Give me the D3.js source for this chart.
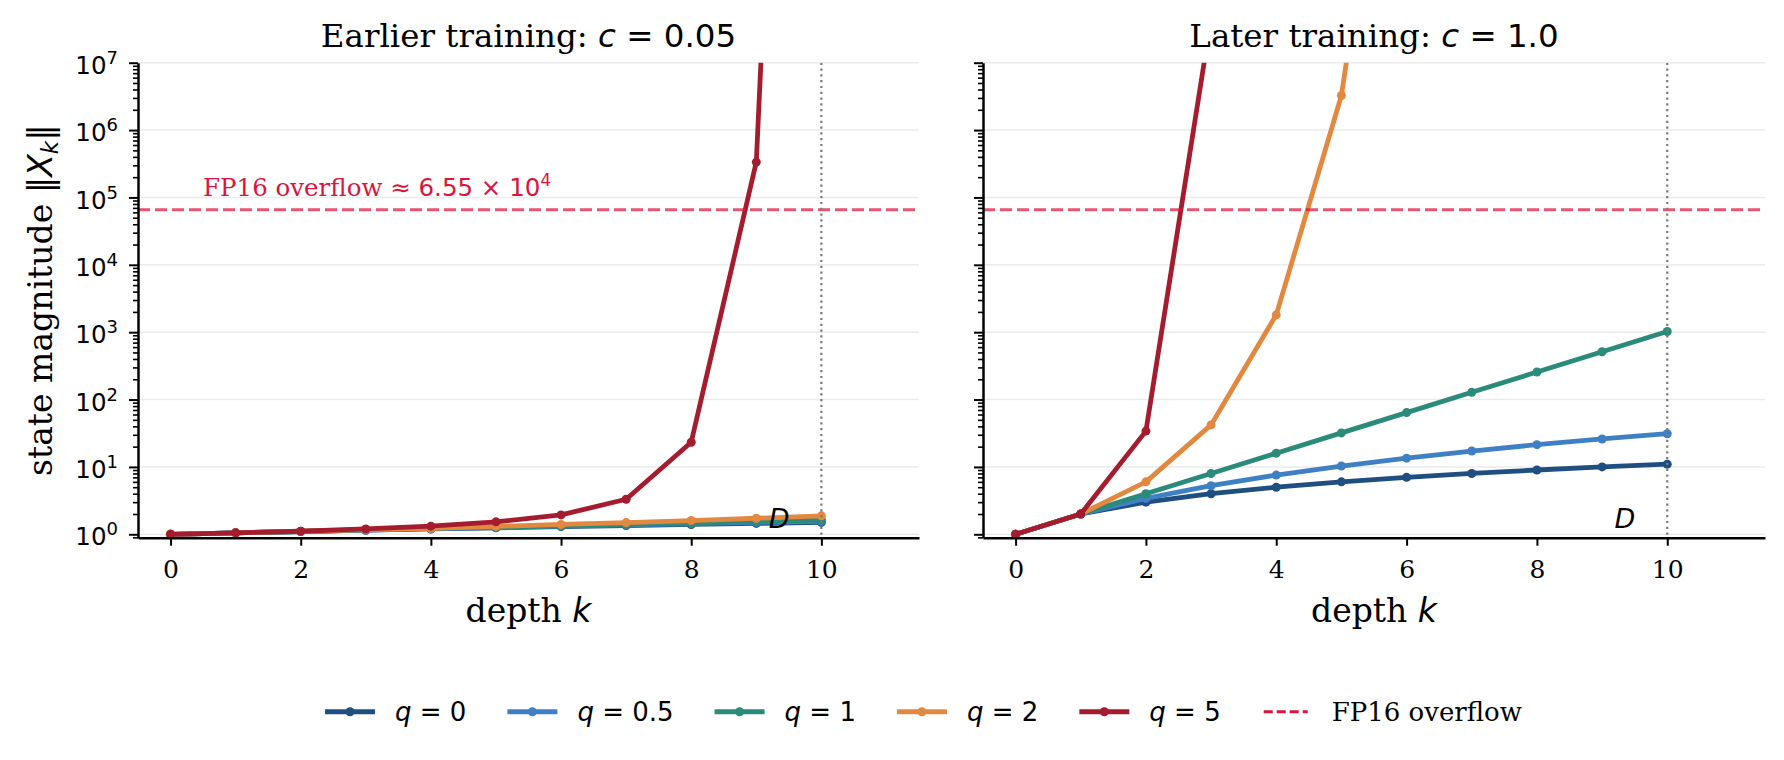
<!DOCTYPE html>
<html>
<head>
<meta charset="utf-8">
<script src="https://cdn.jsdelivr.net/npm/d3@7"></script>
<style>
  body { margin: 0; background: #fff; }
  svg text { font-family: "DejaVu Serif", serif; fill: #000; }
  .m { font-family: "DejaVu Sans", sans-serif; }
</style>
</head>
<body>
<div id="chart"></div>
<script>
// ---- data ----
var depth = [0, 1, 2, 3, 4, 5, 6, 7, 8, 9, 10];
var qLabels = ["0", "0.5", "1", "2", "5"];
var qColors = ["#1f4e80", "#3f80c4", "#2a8b7a", "#e3883f", "#a51c2e"];

// earlier training, c = 0.05
var early_q0   = [1, 1.05, 1.10, 1.15, 1.20, 1.25, 1.30, 1.35, 1.40, 1.45, 1.50];
var early_q05  = [1, 1.05, 1.10, 1.15, 1.21, 1.26, 1.32, 1.38, 1.44, 1.50, 1.56];
var early_q1   = [1, 1.05, 1.10, 1.16, 1.22, 1.28, 1.34, 1.41, 1.48, 1.55, 1.63];
var early_q2   = [1, 1.05, 1.11, 1.17, 1.23, 1.31, 1.40, 1.49, 1.60, 1.73, 1.88];
var early_q5   = [1, 1.05, 1.11, 1.20, 1.32, 1.53, 1.94, 3.31, 23.2, 3.35e5, 2.1e26];

// later training, c = 1.0
var late_q0  = [1, 2, 3, 4, 5, 6, 7, 8, 9, 10, 11];
var late_q05 = [1, 2, 3.41, 5.26, 7.56, 10.3, 13.5, 17.2, 21.4, 26.0, 31.1];
var late_q1  = [1, 2, 4, 8, 16, 32, 64, 128, 256, 512, 1024];
var late_q2  = [1, 2, 6, 42, 1806, 3.26e6, 1.06e13];
var late_q5  = [1, 2, 34, 4.5e7];

var early = [early_q0, early_q05, early_q1, early_q2, early_q5];
var late  = [late_q0, late_q05, late_q1, late_q2, late_q5];

var fp16Max = 65504;
var depthD = 10;
var xTicks = [0, 2, 4, 6, 8, 10];
var yDecades = [0, 1, 2, 3, 4, 5, 6, 7];

// ---- layout ----
var W = 1784, H = 760;
var plotTop = 62.7, plotBottom = 537.7;

var svg = d3.select("#chart")
  .append("svg")
    .attr("width", W)
    .attr("height", H);

var panels = [
  {x0: 138, x1: 919, title: "Earlier training: ", c: "0.05", series: early, yLabels: true},
  {x0: 983, x1: 1765, title: "Later training: ", c: "1.0", series: late, yLabels: false}
];

var majors = yDecades.map(function(e) { return Math.pow(10, e); });
var minors = [];
for (var e = -1; e < 7; e++) {
  for (var m = 2; m <= 9; m++) {
    var v = m * Math.pow(10, e);
    if (v >= 0.89 && v <= 1e7) minors.push(v);
  }
}

panels.forEach(function(p, i) {
  var x = d3.scaleLinear().domain([-0.5, 11.5]).range([p.x0, p.x1]);
  var y = d3.scaleLog().domain([0.89, 1e7]).range([plotBottom, plotTop]);

  var g = svg.append("g");

  svg.append("clipPath").attr("id", "clip" + i)
    .append("rect")
      .attr("x", p.x0).attr("y", plotTop)
      .attr("width", p.x1 - p.x0).attr("height", plotBottom - plotTop);

  // grid
  g.append("g").selectAll("line")
    .data(majors)
    .enter().append("line")
      .attr("x1", p.x0).attr("x2", p.x1)
      .attr("y1", function(d) { return y(d); })
      .attr("y2", function(d) { return y(d); })
      .attr("stroke", "#ebebeb")
      .attr("stroke-width", 1.5);

  var plot = g.append("g").attr("clip-path", "url(#clip" + i + ")");

  // series
  p.series.forEach(function(vals, s) {
    var pts = vals.map(function(v, k) { return {k: depth[k], v: v}; });
    plot.append("path")
      .datum(pts)
      .attr("fill", "none")
      .attr("stroke", qColors[s])
      .attr("stroke-width", 4.8)
      .attr("stroke-linejoin", "round")
      .attr("d", d3.line()
        .x(function(d) { return x(d.k); })
        .y(function(d) { return y(d.v); }));
    plot.append("g").selectAll("circle")
      .data(pts)
      .enter().append("circle")
        .attr("cx", function(d) { return x(d.k); })
        .attr("cy", function(d) { return y(d.v); })
        .attr("r", 4.5)
        .attr("fill", qColors[s]);
  });

  // FP16 overflow line
  plot.append("line")
    .attr("x1", p.x0).attr("x2", p.x1)
    .attr("y1", y(fp16Max)).attr("y2", y(fp16Max))
    .attr("stroke", "#dc143c")
    .attr("stroke-opacity", 0.72)
    .attr("stroke-width", 3)
    .attr("stroke-dasharray", "12,5");

  // depth D marker
  plot.append("line")
    .attr("x1", x(depthD)).attr("x2", x(depthD))
    .attr("y1", plotTop).attr("y2", plotBottom)
    .attr("stroke", "#7a7a7a")
    .attr("stroke-width", 2.2)
    .attr("stroke-dasharray", "2.2,3.6");

  g.append("text")
    .attr("class", "m")
    .attr("x", x(9.35))
    .attr("y", y(1.25))
    .attr("text-anchor", "middle")
    .style("font-size", "27px")
    .style("font-style", "italic")
    .text("D");

  if (i === 0) {
    var ann = g.append("text")
      .attr("x", x(0.5))
      .attr("y", y(1e5) - 1)
      .style("font-size", "24.5px")
      .style("fill", "#dc143c");
    ann.append("tspan").text("FP16 overflow ");
    ann.append("tspan").attr("class", "m").style("fill", "#dc143c").text("\u2248 6.55 \u00d7 10");
    ann.append("tspan").attr("class", "m").style("fill", "#dc143c")
      .attr("dy", -10).style("font-size", "17px").text("4");
  }

  // x axis
  var gx = g.append("g")
    .attr("transform", "translate(0," + plotBottom + ")")
    .call(d3.axisBottom(x).tickValues(xTicks).tickSize(8).tickSizeOuter(0));
  gx.attr("font-size", null).attr("font-family", null);
  gx.select(".domain").attr("stroke", "#000").attr("stroke-width", 2.5);
  gx.selectAll(".tick line").attr("stroke", "#000").attr("stroke-width", 2);
  gx.selectAll(".tick text")
    .attr("y", 40.3).attr("dy", null)
    .style("font-size", "25px");

  // y axis: minors then majors
  var gym = g.append("g")
    .attr("transform", "translate(" + p.x0 + ",0)")
    .call(d3.axisLeft(y).tickValues(minors).tickSize(5).tickSizeOuter(0).tickFormat(""));
  gym.select(".domain").remove();
  gym.selectAll(".tick line").attr("stroke", "#000").attr("stroke-width", 1.6);

  var gy = g.append("g")
    .attr("transform", "translate(" + p.x0 + ",0)")
    .call(d3.axisLeft(y).tickValues(majors).tickSize(9).tickSizeOuter(0).tickFormat(""));
  gy.attr("font-size", null).attr("font-family", null);
  gy.select(".domain").attr("stroke", "#000").attr("stroke-width", 2.5);
  gy.selectAll(".tick line").attr("stroke", "#000").attr("stroke-width", 2);

  if (p.yLabels) {
    gy.selectAll(".tick text").each(function(d) {
      var t = d3.select(this)
        .attr("class", "m")
        .attr("x", -20).attr("y", 10.6).attr("dy", null)
        .style("font-size", "24.5px");
      t.append("tspan").text("10");
      t.append("tspan").attr("dy", -10).style("font-size", "18px")
        .text(Math.round(Math.log10(d)));
    });
  } else {
    gy.selectAll(".tick text").remove();
  }

  // title
  var cx = (p.x0 + p.x1) / 2;
  var tt = g.append("text")
    .attr("x", cx).attr("y", 46.7)
    .attr("text-anchor", "middle")
    .style("font-size", "32.5px");
  tt.append("tspan").text(p.title);
  tt.append("tspan").attr("class", "m").style("font-style", "italic").text("c");
  tt.append("tspan").attr("class", "m").text(" = " + p.c);

  // x label
  var xl = g.append("text")
    .attr("x", cx).attr("y", 622)
    .attr("text-anchor", "middle")
    .style("font-size", "33px");
  xl.append("tspan").text("depth ");
  xl.append("tspan").attr("class", "m").style("font-style", "italic").text("k");

  // y label
  if (i === 0) {
    var yl = g.append("text")
      .attr("transform", "translate(52," + ((plotTop + plotBottom) / 2) + ") rotate(-90)")
      .attr("text-anchor", "middle")
      .style("font-size", "33px");
    yl.append("tspan").text("state magnitude ");
    yl.append("tspan").attr("class", "m").text("\u2016");
    yl.append("tspan").attr("class", "m").style("font-style", "italic").text("X");
    yl.append("tspan").attr("class", "m").style("font-style", "italic")
      .style("font-size", "23px").attr("dy", 6).text("k");
    yl.append("tspan").attr("class", "m").attr("dy", -6).text("\u2016");
  }
});

// ---- legend ----
var legendY = 711.7;
var handleLen = 50, handleGap = 20, colGap = 41;
var leg = svg.append("g");
var items = [];

qLabels.forEach(function(q, s) {
  var it = leg.append("g");
  it.append("line")
    .attr("x1", 0).attr("x2", handleLen)
    .attr("y1", 0).attr("y2", 0)
    .attr("stroke", qColors[s]).attr("stroke-width", 5);
  it.append("circle").attr("cx", handleLen / 2).attr("cy", 0).attr("r", 4.5).attr("fill", qColors[s]);
  var t = it.append("text")
    .attr("class", "m")
    .attr("x", handleLen + handleGap).attr("y", 9)
    .style("font-size", "26px");
  t.append("tspan").style("font-style", "italic").text("q");
  t.append("tspan").text(" = " + q);
  items.push(it);
});

var itF = leg.append("g");
itF.append("line")
  .attr("x1", 2).attr("x2", handleLen - 4)
  .attr("y1", 0).attr("y2", 0)
  .attr("stroke", "#dc143c").attr("stroke-width", 3)
  .attr("stroke-dasharray", "9,4");
itF.append("text")
  .attr("x", handleLen + handleGap).attr("y", 9)
  .style("font-size", "26px")
  .text("FP16 overflow");
items.push(itF);

var cursor = 0;
items.forEach(function(it) {
  it.attr("transform", "translate(" + cursor + "," + legendY + ")");
  cursor += it.node().getBBox().width + colGap;
});
var total = cursor - colGap;
leg.attr("transform", "translate(" + (922.5 - total / 2) + ",0)");
</script>
</body>
</html>
